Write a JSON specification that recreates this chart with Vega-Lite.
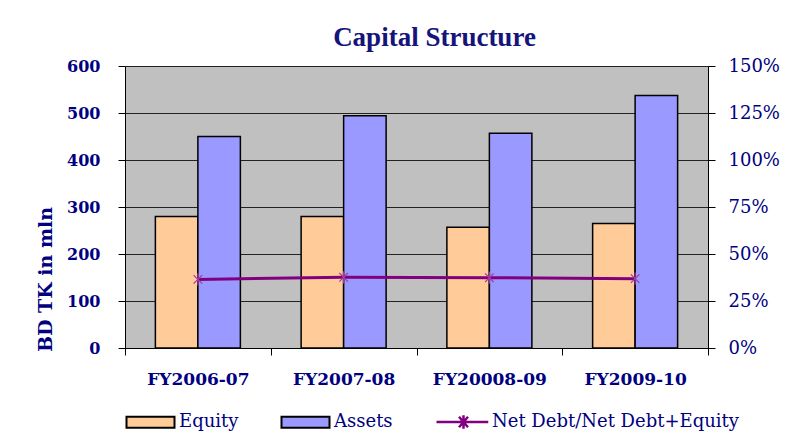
{
  "$schema": "https://vega.github.io/schema/vega-lite/v6.json",
  "width": 583,
  "height": 282,
  "autosize": "none",
  "padding": {"left": 125, "top": 66, "right": 87, "bottom": 95},
  "background": "white",
  "title": {"text": "Capital Structure", "font": "Liberation Serif", "fontSize": 27, "fontWeight": "bold", "color": "#14147A", "offset": 5, "dx": 18, "anchor": "middle"},
  "datasets": {
    "bars": [
      {"fy": "FY2006-07", "series": "Equity", "value": 280},
      {"fy": "FY2006-07", "series": "Assets", "value": 450},
      {"fy": "FY2007-08", "series": "Equity", "value": 280},
      {"fy": "FY2007-08", "series": "Assets", "value": 494},
      {"fy": "FY20008-09", "series": "Equity", "value": 257},
      {"fy": "FY20008-09", "series": "Assets", "value": 457},
      {"fy": "FY2009-10", "series": "Equity", "value": 265},
      {"fy": "FY2009-10", "series": "Assets", "value": 537}
    ],
    "line": [
      {"fy": "FY2006-07", "ratio": 0.365},
      {"fy": "FY2007-08", "ratio": 0.376},
      {"fy": "FY20008-09", "ratio": 0.374},
      {"fy": "FY2009-10", "ratio": 0.369}
    ]
  },
  "layer": [
    {
      "data": {"name": "bars"},
      "mark": {"type": "bar", "stroke": "black", "strokeWidth": 1.5},
      "encoding": {
        "x": {
          "field": "fy", "type": "nominal", "sort": null,
          "scale": {"paddingInner": 0, "paddingOuter": 0},
          "axis": {"title": null, "labelFont": "DejaVu Serif", "labelFontSize": 17, "labelFontWeight": "bold", "labelColor": "#000080", "labelAngle": 0, "tickBand": "extent", "tickSize": 7, "tickColor": "black", "domainColor": "black", "labelPadding": 16, "grid": false}
        },
        "xOffset": {"field": "series", "sort": ["Equity", "Assets"], "scale": {"paddingInner": 0, "paddingOuter": 0.715}},
        "y": {
          "field": "value", "type": "quantitative", "scale": {"domain": [0, 600]},
          "axis": {"title": "BD TK in mln", "titleFont": "DejaVu Serif", "titleFontSize": 19, "titleFontWeight": "bold", "titleColor": "#000080", "titleX": -80, "titleY": 213, "titleAngle": -90, "titleBaseline": "middle", "titleAlign": "center", "values": [0, 100, 200, 300, 400, 500, 600], "labelFont": "DejaVu Serif", "labelFontSize": 16, "labelFontWeight": "bold", "labelColor": "#000080", "tickSize": 7, "tickColor": "black", "domainColor": "black", "labelPadding": 18, "grid": true, "gridColor": "#222222", "gridWidth": 1}
        },
        "color": {
          "field": "series", "type": "nominal",
          "scale": {"domain": ["Equity", "Assets"], "range": ["#FFCC99", "#9999FF"]},
          "legend": {
            "orient": "none", "legendX": 0, "legendY": 347, "direction": "horizontal", "columns": 2, "title": null,
            "symbolType": "M-1,-0.73H5.4V0.73H-1Z", "symbolSize": 225, "symbolStrokeColor": "black", "symbolStrokeWidth": 2,
            "labelOffset": 36, "labelFont": "DejaVu Serif", "labelFontSize": 18, "labelColor": "#000080", "labelLimit": 400,
            "columnPadding": 38, "padding": 0
          }
        }
      }
    },
    {
      "data": {"name": "line"},
      "encoding": {
        "x": {"field": "fy", "type": "nominal", "sort": null},
        "y": {
          "field": "ratio", "type": "quantitative", "scale": {"domain": [0, 1.5]},
          "axis": {"orient": "right", "title": null, "values": [0, 0.25, 0.5, 0.75, 1, 1.25, 1.5], "format": ".0%", "labelFont": "DejaVu Serif", "labelFontSize": 18, "labelColor": "#000080", "tickSize": 7, "tickColor": "black", "domainColor": "black", "labelPadding": 13, "grid": false}
        }
      },
      "layer": [
        {"mark": {"type": "line", "strokeWidth": 3, "color": "#800080"}},
        {"mark": {"type": "point", "shape": "M-0.7,-0.7L0.7,0.7M-0.7,0.7L0.7,-0.7M0,-1V1", "size": 150, "filled": false, "stroke": "#A03CA0", "strokeWidth": 1.2, "opacity": 1}},
        {
          "mark": {"type": "point", "filled": false, "stroke": "#800080", "strokeWidth": 2.5, "opacity": 0},
          "encoding": {
            "shape": {
              "datum": "Net Debt/Net Debt+Equity",
              "scale": {"domain": ["Net Debt/Net Debt+Equity"], "range": ["M-1,0H5.9M2.0,-0.7L3.2,0.7M2.0,0.7L3.2,-0.7M2.6,-0.9V0.9"]},
              "legend": {
                "orient": "none", "legendX": 310, "legendY": 347, "title": null,
                "symbolSize": 225, "symbolOpacity": 1, "symbolStrokeColor": "#800080", "symbolStrokeWidth": 2.5, "symbolFillColor": "transparent",
                "labelOffset": 39, "labelFont": "DejaVu Serif", "labelFontSize": 18, "labelColor": "#000080", "labelLimit": 400, "padding": 0
              }
            }
          }
        }
      ]
    }
  ],
  "resolve": {"scale": {"y": "independent"}, "axis": {"y": "independent"}},
  "config": {
    "view": {"fill": "#C0C0C0", "stroke": "#808080", "strokeWidth": 1}
  }
}
